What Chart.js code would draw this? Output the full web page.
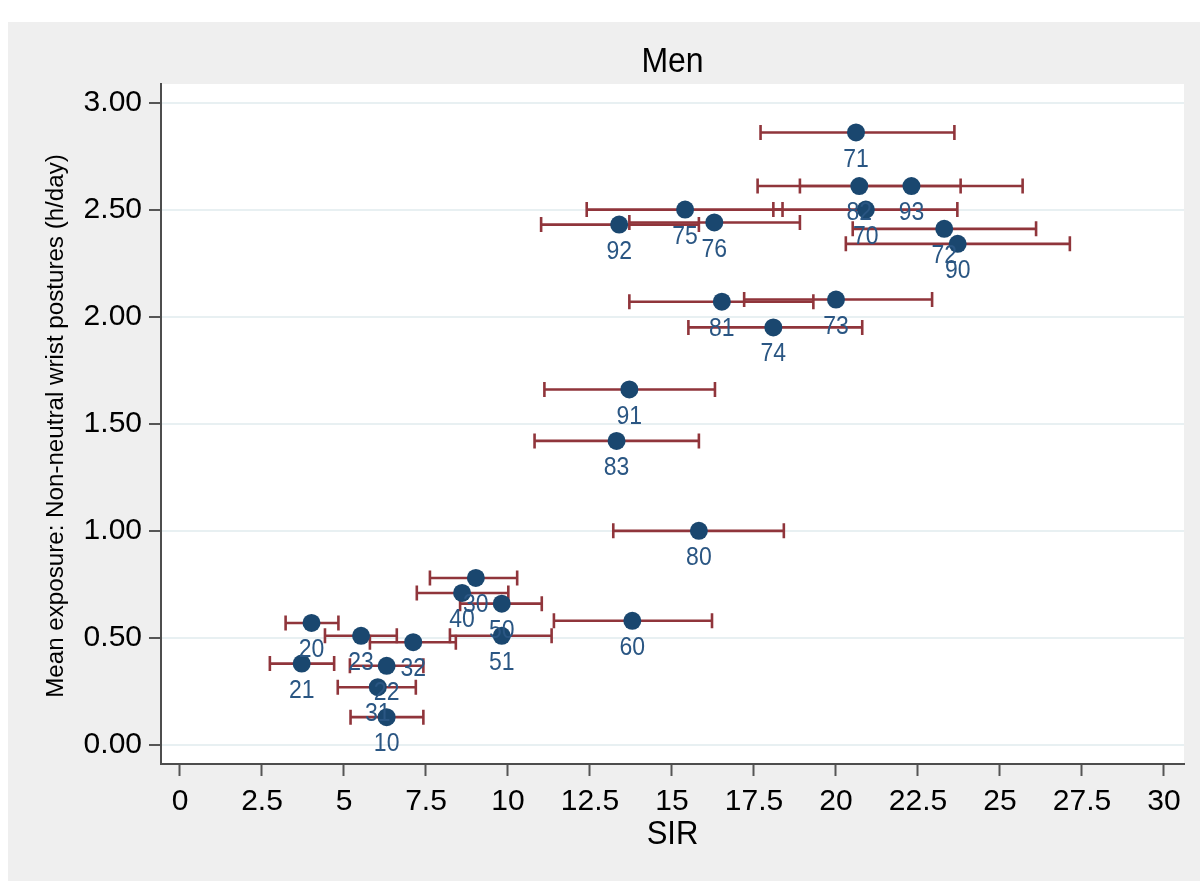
<!DOCTYPE html>
<html>
<head>
<meta charset="utf-8">
<script src="https://cdn.jsdelivr.net/npm/chart.js@4/dist/chart.umd.min.js"></script>
<style>
  html, body { margin: 0; padding: 0; background: #ffffff; }
  #wrap { width: 1200px; height: 881px; }
</style>
</head>
<body>
<div id="wrap"><canvas id="c" width="1200" height="881"></canvas></div>
<script>
// ---- Data ----
const categories     = ['71','82','93','70','75','92','76','72','90','81','73','74','91','83','80','60','30','40','50','51','32','20','23','21','22','31','10'];
const sirValues      = [20.61,20.71,22.30,20.91,15.40,13.39,16.29,23.30,23.71,16.52,20.00,18.09,13.70,13.31,15.82,13.79, 9.02, 8.60, 9.81, 9.81, 7.11, 4.01, 5.52, 3.71, 6.30, 6.03, 6.30];
const exposureValues = [ 2.86, 2.61, 2.61, 2.50, 2.50, 2.43, 2.44, 2.41, 2.34, 2.07, 2.08, 1.95, 1.66, 1.42, 1.00, 0.58, 0.78, 0.71, 0.66, 0.51, 0.48, 0.57, 0.51, 0.38, 0.37, 0.27, 0.13];
const ciLower        = [17.70,17.61,18.90,18.09,12.40,11.01,13.70,20.51,20.30,13.70,17.20,15.50,11.11,10.81,13.21,11.40, 7.62, 7.22, 8.54, 8.23, 5.79, 3.22, 4.42, 2.74, 5.18, 4.81, 5.20];
const ciUpper        = [23.61,23.80,25.69,23.70,18.37,15.82,18.90,26.10,27.13,19.31,22.93,20.80,16.31,15.82,18.41,16.22,10.28,10.01,11.03,11.33, 8.41, 4.83, 6.61, 4.70, 7.42, 7.19, 7.42];

const xTickValues = [0, 2.5, 5, 7.5, 10, 12.5, 15, 17.5, 20, 22.5, 25, 27.5, 30];
const xTickLabels = ['0','2.5','5','7.5','10','12.5','15','17.5','20','22.5','25','27.5','30'];
const yTickValues = [0, 0.5, 1, 1.5, 2, 2.5, 3];
const yTickLabels = ['0.00','0.50','1.00','1.50','2.00','2.50','3.00'];

const chartTitle = 'Men';
const xTitle = 'SIR';
const yTitle = 'Mean exposure: Non-neutral wrist postures (h/day)';

// ---- Styles ----
const FONT = '"Liberation Sans", Arial, Helvetica, sans-serif';
const MARKER = '#1a476f';
const LABEL = '#2a5683';
const BAR = '#90353b';
const GREY = '#efefef';
const STRETCH = 1.12;

const points = sirValues.map((x, i) => ({ x: x, y: exposureValues[i] }));

function stretchedText(ctx, text, x, y, sy) {
  ctx.save();
  ctx.translate(x, y);
  ctx.scale(1, sy);
  ctx.fillText(text, 0, 0);
  ctx.restore();
}

const decorPlugin = {
  id: 'decor',
  beforeDraw(chart) {
    const ctx = chart.ctx, a = chart.chartArea;
    ctx.save();
    ctx.fillStyle = '#ffffff';
    ctx.fillRect(0, 0, chart.width, chart.height);
    ctx.fillStyle = GREY;
    ctx.fillRect(8, 22, chart.width - 8, chart.height - 22);
    ctx.fillStyle = '#ffffff';
    ctx.fillRect(a.left, a.top, a.right - a.left, a.bottom - a.top);
    ctx.restore();
  },
  beforeDatasetsDraw(chart) {
    const ctx = chart.ctx, xs = chart.scales.x, ys = chart.scales.y;
    ctx.save();
    ctx.strokeStyle = BAR;
    ctx.lineWidth = 2.6;
    ctx.lineCap = 'butt';
    for (let i = 0; i < categories.length; i++) {
      const y = ys.getPixelForValue(exposureValues[i]);
      const x1 = xs.getPixelForValue(ciLower[i]);
      const x2 = xs.getPixelForValue(ciUpper[i]);
      ctx.beginPath();
      ctx.moveTo(x1, y); ctx.lineTo(x2, y);
      ctx.moveTo(x1, y - 7.5); ctx.lineTo(x1, y + 7.5);
      ctx.moveTo(x2, y - 7.5); ctx.lineTo(x2, y + 7.5);
      ctx.stroke();
    }
    ctx.restore();
  },
  afterDatasetsDraw(chart) {
    const ctx = chart.ctx, xs = chart.scales.x, ys = chart.scales.y;
    ctx.save();
    ctx.fillStyle = LABEL;
    ctx.font = '23px ' + FONT;
    ctx.textAlign = 'center';
    ctx.textBaseline = 'middle';
    for (let i = 0; i < categories.length; i++) {
      const x = xs.getPixelForValue(sirValues[i]);
      const y = ys.getPixelForValue(exposureValues[i]);
      stretchedText(ctx, categories[i], x, y + 27, STRETCH);
    }
    ctx.restore();
  },
  afterDraw(chart) {
    const ctx = chart.ctx, a = chart.chartArea;
    const cx = (a.left + a.right) / 2;
    ctx.save();
    ctx.fillStyle = '#000000';
    ctx.textAlign = 'center';
    ctx.textBaseline = 'middle';
    ctx.font = '32px ' + FONT;
    stretchedText(ctx, chartTitle, cx, 62, 1.08);
    ctx.font = '31px ' + FONT;
    stretchedText(ctx, xTitle, cx, 835, 1.1);
    ctx.translate(57, (a.top + a.bottom) / 2 + 2);
    ctx.rotate(-Math.PI / 2);
    ctx.font = '23px ' + FONT;
    ctx.scale(1.05, 1);
    ctx.fillText(yTitle, 0, 0);
    ctx.restore();
  }
};

new Chart(document.getElementById('c'), {
  type: 'scatter',
  data: {
    datasets: [{
      label: 'Men',
      data: points,
      pointRadius: 9,
      pointHoverRadius: 9,
      pointBackgroundColor: MARKER,
      pointBorderWidth: 0,
      showLine: false
    }]
  },
  options: {
    responsive: false,
    animation: false,
    devicePixelRatio: 1,
    events: [],
    layout: { padding: { top: 84, right: 16, bottom: 0, left: 0 } },
    plugins: { legend: { display: false }, tooltip: { enabled: false }, title: { display: false } },
    scales: {
      x: {
        type: 'linear',
        min: -0.579,
        max: 30.61,
        afterBuildTicks(scale) { scale.ticks = xTickValues.map(v => ({ value: v })); },
        afterFit(scale) { scale.height = 117; },
        ticks: {
          autoSkip: false,
          maxRotation: 0,
          padding: 8,
          color: '#000000',
          font: { family: FONT, size: 30 },
          callback: (v, i) => xTickLabels[i]
        },
        grid: { drawOnChartArea: false, drawTicks: true, tickLength: 12, tickColor: '#555555', tickWidth: 2 },
        border: { display: true, color: '#4d4d4d', width: 2 }
      },
      y: {
        type: 'linear',
        min: -0.0887,
        max: 3.0864,
        afterBuildTicks(scale) { scale.ticks = yTickValues.map(v => ({ value: v })); },
        afterFit(scale) { scale.width = 161; },
        ticks: {
          autoSkip: false,
          padding: 7,
          color: '#000000',
          font: { family: FONT, size: 30 },
          callback: (v, i) => yTickLabels[i]
        },
        grid: { color: '#e8f0f2', lineWidth: 2, drawTicks: true, tickLength: 12, tickColor: '#555555', tickWidth: 2 },
        border: { display: true, color: '#4d4d4d', width: 2 }
      }
    }
  },
  plugins: [decorPlugin]
});
</script>
</body>
</html>
